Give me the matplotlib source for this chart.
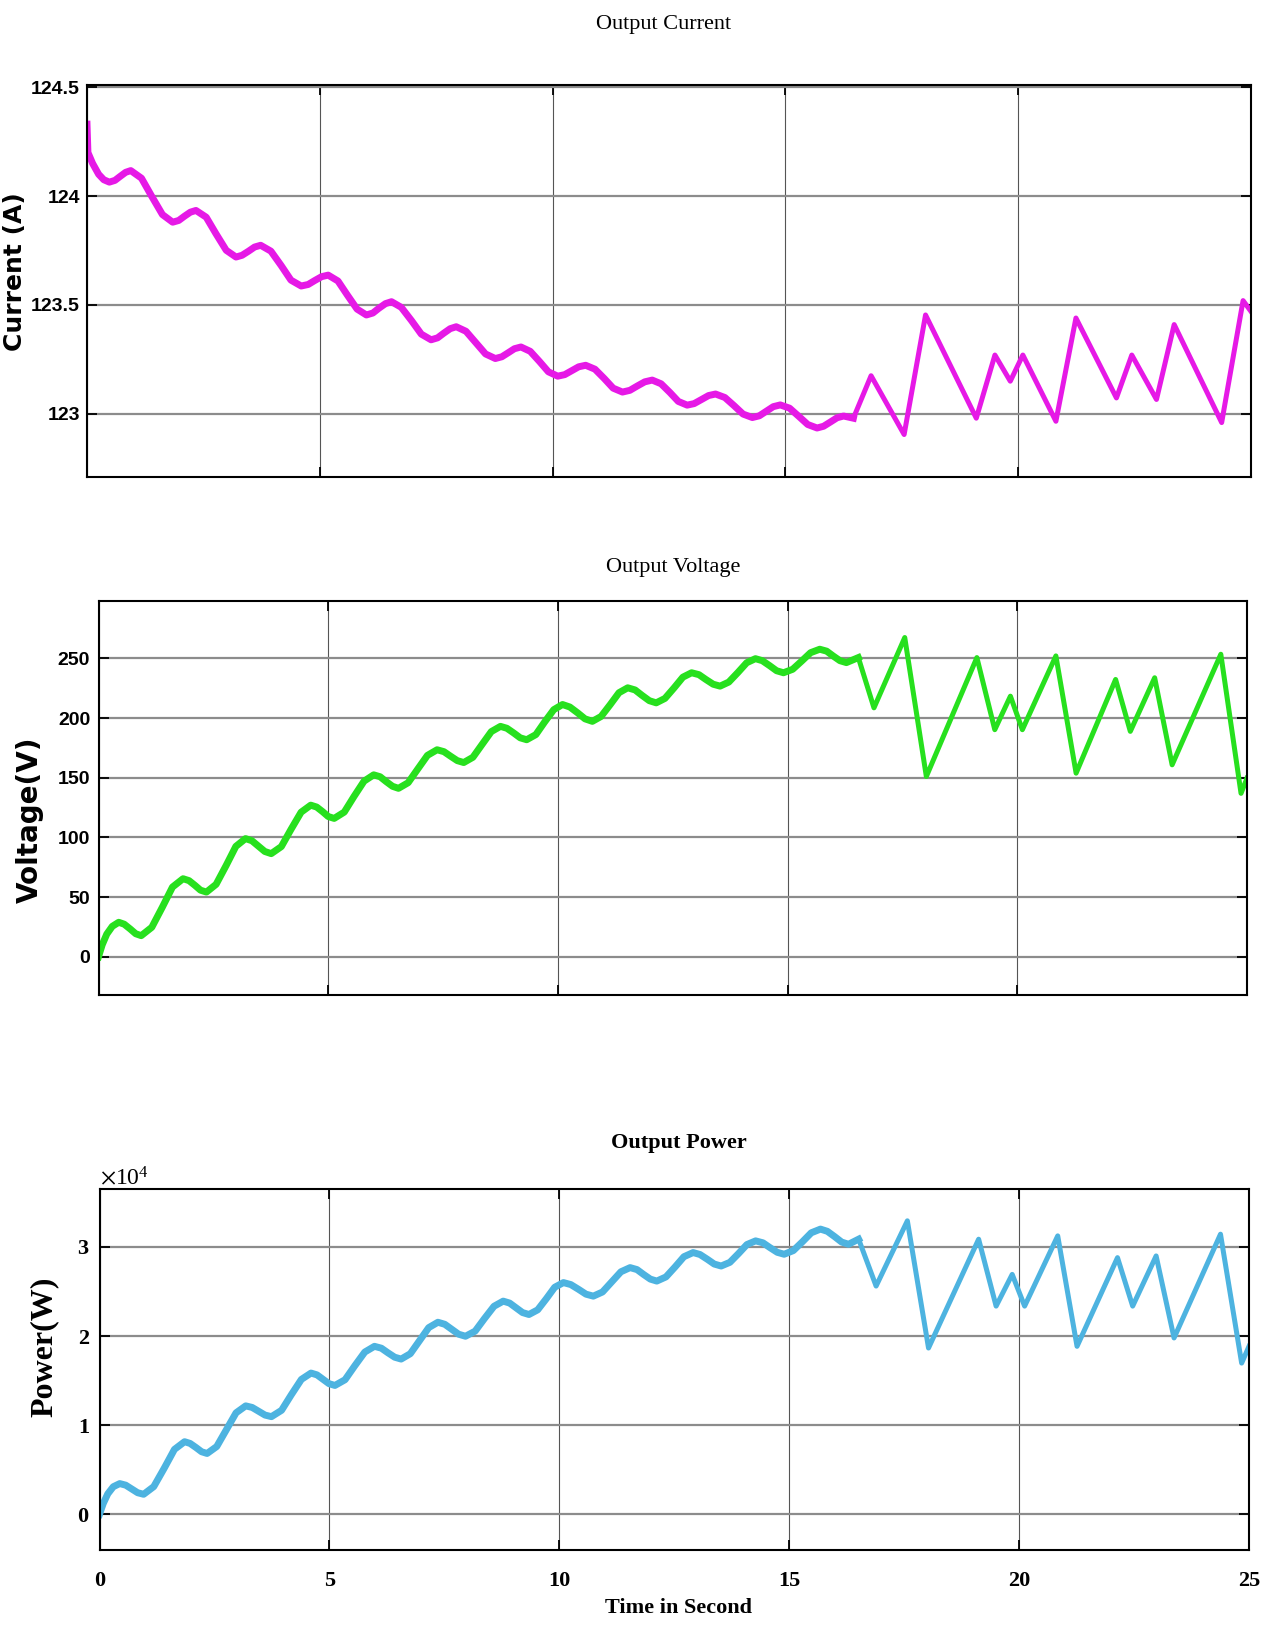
import matplotlib
matplotlib.use('Agg')
import matplotlib.pyplot as plt
from matplotlib.ticker import FixedLocator, FuncFormatter, ScalarFormatter

# ---- data (time in s) ----
# output current, smooth start-up part (one line per half-wave)
t_current = [0.00, 0.02, 0.12, 0.25, 0.36, 0.48,
             0.60, 0.71, 0.83, 0.94,
             1.17, 1.39, 1.62, 1.84,
             1.97, 2.09, 2.22, 2.34,
             2.56, 2.77, 2.99, 3.20,
             3.33, 3.47, 3.60, 3.73,
             3.95, 4.17, 4.38, 4.60,
             4.75, 4.89, 5.04, 5.18,
             5.39, 5.59, 5.80, 6.00,
             6.14, 6.27, 6.41, 6.54,
             6.75, 6.97, 7.18, 7.39,
             7.53, 7.66, 7.80, 7.93,
             8.14, 8.35, 8.56, 8.77,
             8.91, 9.05, 9.18, 9.32,
             9.52, 9.72, 9.91, 10.11,
             10.26, 10.41, 10.56, 10.71,
             10.91, 11.11, 11.30, 11.50,
             11.66, 11.82, 11.98, 12.14,
             12.33, 12.52, 12.70, 12.89,
             13.04, 13.20, 13.35, 13.50,
             13.70, 13.90, 14.09, 14.29,
             14.44, 14.59, 14.74, 14.89,
             15.09, 15.29, 15.48, 15.68,
             15.82, 15.97, 16.11, 16.25,
             16.46]
current = [124.33, 124.20, 124.15, 124.10, 124.075, 124.064,
           124.072, 124.090, 124.109, 124.117,
           124.082, 123.999, 123.915, 123.880,
           123.888, 123.907, 123.926, 123.934,
           123.903, 123.827, 123.751, 123.720,
           123.728, 123.747, 123.766, 123.774,
           123.747, 123.681, 123.614, 123.587,
           123.594, 123.612, 123.630, 123.637,
           123.610, 123.546, 123.481, 123.454,
           123.463, 123.485, 123.506, 123.515,
           123.489, 123.428, 123.366, 123.340,
           123.349, 123.370, 123.391, 123.400,
           123.379, 123.327, 123.275, 123.254,
           123.262, 123.281, 123.299, 123.307,
           123.287, 123.240, 123.193, 123.173,
           123.180, 123.198, 123.216, 123.223,
           123.205, 123.162, 123.118, 123.100,
           123.108, 123.128, 123.147, 123.155,
           123.138, 123.098, 123.057, 123.040,
           123.047, 123.066, 123.084, 123.091,
           123.075, 123.037, 122.999, 122.983,
           122.991, 123.012, 123.033, 123.041,
           123.026, 122.988, 122.951, 122.935,
           122.943, 122.963, 122.982, 122.990,
           122.980]
# output current, oscillating part
t_current_osc = [16.46, 16.84, 17.55, 18.01, 19.10, 19.50, 19.83, 20.10, 20.81,
                 21.24, 22.11, 22.44, 22.97, 23.35, 24.37, 24.83, 25.00]
current_osc = [122.98, 123.175, 122.905, 123.454, 122.98, 123.27, 123.15, 123.27,
               122.966, 123.44, 123.073, 123.27, 123.066, 123.41, 122.96, 123.52, 123.47]

# output voltage
t_voltage = [0.00, 0.08, 0.18, 0.30, 0.44,
             0.56, 0.69, 0.81, 0.93,
             1.16, 1.39, 1.61, 1.84,
             1.97, 2.10, 2.22, 2.35,
             2.56, 2.78, 2.99, 3.20,
             3.34, 3.48, 3.62, 3.76,
             3.98, 4.19, 4.41, 4.62,
             4.75, 4.88, 5.00, 5.13,
             5.35, 5.56, 5.78, 5.99,
             6.13, 6.26, 6.40, 6.53,
             6.74, 6.95, 7.16, 7.37,
             7.52, 7.66, 7.81, 7.95,
             8.15, 8.35, 8.55, 8.75,
             8.89, 9.04, 9.18, 9.32,
             9.52, 9.71, 9.91, 10.10,
             10.26, 10.43, 10.59, 10.75,
             10.94, 11.14, 11.33, 11.52,
             11.68, 11.83, 11.99, 12.14,
             12.33, 12.53, 12.72, 12.91,
             13.07, 13.22, 13.38, 13.53,
             13.72, 13.92, 14.11, 14.30,
             14.45, 14.61, 14.76, 14.91,
             15.11, 15.31, 15.50, 15.70,
             15.85, 15.99, 16.14, 16.28,
             16.54]
voltage = [0.0, 10.0, 19.0, 25.5, 28.9,
           27.3, 23.3, 19.3, 17.7,
           24.7, 41.6, 58.4, 65.4,
           63.8, 59.8, 55.8, 54.2,
           60.7, 76.6, 92.5, 99.0,
           97.2, 92.7, 88.2, 86.4,
           92.3, 106.7, 121.1, 127.0,
           125.4, 121.5, 117.5, 115.9,
           121.2, 134.2, 147.1, 152.4,
           150.8, 146.8, 142.8, 141.1,
           145.8, 157.3, 168.7, 173.4,
           171.8, 168.1, 164.3, 162.7,
           167.1, 177.9, 188.6, 193.0,
           191.4, 187.4, 183.4, 181.8,
           186.1, 196.6, 207.0, 211.3,
           209.2, 204.3, 199.3, 197.2,
           201.3, 211.3, 221.2, 225.3,
           223.5, 219.0, 214.5, 212.7,
           216.4, 225.3, 234.2, 237.9,
           236.3, 232.3, 228.3, 226.7,
           230.1, 238.2, 246.3, 249.7,
           248.0, 243.8, 239.6, 237.9,
           240.8, 247.8, 254.7, 257.6,
           256.0, 252.0, 248.0, 246.4,
           250.6]
t_voltage_osc = [16.54, 16.88, 17.55, 18.02, 19.12, 19.51, 19.85, 20.11, 20.84,
                 21.28, 22.14, 22.46, 22.99, 23.37, 24.43, 24.87, 25.00]
voltage_osc = [250.6, 208.5, 267.4, 151.0, 250.6, 190.2, 218.3, 190.2, 252.0,
               153.8, 232.3, 188.8, 233.7, 160.8, 253.4, 136.9, 149.6]

# output power (W)
t_power = [0.00, 0.08, 0.18, 0.30, 0.44,
           0.57, 0.70, 0.83, 0.96,
           1.18, 1.41, 1.63, 1.85,
           1.97, 2.10, 2.22, 2.34,
           2.55, 2.76, 2.97, 3.18,
           3.32, 3.46, 3.60, 3.74,
           3.96, 4.17, 4.39, 4.60,
           4.73, 4.86, 4.99, 5.12,
           5.34, 5.55, 5.77, 5.98,
           6.13, 6.27, 6.42, 6.56,
           6.76, 6.96, 7.16, 7.36,
           7.51, 7.66, 7.81, 7.96,
           8.17, 8.37, 8.58, 8.78,
           8.92, 9.06, 9.20, 9.34,
           9.53, 9.72, 9.90, 10.09,
           10.25, 10.42, 10.58, 10.74,
           10.94, 11.14, 11.34, 11.54,
           11.69, 11.83, 11.98, 12.12,
           12.32, 12.52, 12.71, 12.91,
           13.06, 13.22, 13.37, 13.52,
           13.71, 13.90, 14.08, 14.27,
           14.43, 14.58, 14.74, 14.89,
           15.09, 15.29, 15.48, 15.68,
           15.83, 15.99, 16.14, 16.29,
           16.51]
power = [0, 1200, 2300, 3100, 3450,
         3275, 2850, 2425, 2250,
         3111, 5200, 7289, 8150,
         7957, 7490, 7023, 6830,
         7610, 9500, 11390, 12170,
         11993, 11565, 11137, 10960,
         11674, 13405, 15136, 15850,
         15647, 15155, 14663, 14460,
         15101, 16655, 18209, 18850,
         18641, 18135, 17629, 17420,
         18023, 19485, 20947, 21550,
         21321, 20765, 20209, 19980,
         20555, 21950, 23345, 23920,
         23701, 23170, 22639, 22420,
         22943, 24210, 25477, 26000,
         25778, 25240, 24702, 24480,
         24947, 26080, 27213, 27680,
         27460, 26925, 26390, 26170,
         26637, 27770, 28903, 29370,
         29150, 28615, 28080, 27860,
         28272, 29270, 30268, 30680,
         30461, 29930, 29399, 29180,
         29592, 30590, 31588, 32000,
         31752, 31150, 30548, 30300,
         30870]
t_power_osc = [16.51, 16.89, 17.57, 18.03, 19.12, 19.50, 19.85, 20.12, 20.84,
               21.26, 22.14, 22.47, 22.98, 23.37, 24.38, 24.84, 25.00]
power_osc = [30870, 25610, 32930, 18660, 30870, 23360, 26920, 23360, 31240,
             18850, 28800, 23360, 28990, 19790, 31430, 16970, 18850]

x_ticks = [0, 5, 10, 15, 20, 25]
current_ticks = [123, 123.5, 124, 124.5]
voltage_ticks = [0, 50, 100, 150, 200, 250]
power_ticks = [0, 10000, 20000, 30000]

# ---- fonts ----
sans = 'Liberation Sans'
serif = 'Liberation Serif'
plt.rcParams['mathtext.fontset'] = 'stix'

W, H = 1274, 1625


def box(left, top, right, bottom):
    # pixel box -> figure fraction
    return [left / W, 1 - bottom / H, (right - left) / W, (bottom - top) / H]


def style(ax):
    for s in ax.spines.values():
        s.set_linewidth(1.5)
        s.set_color('black')
    ax.set_xlim(0, 25)
    ax.xaxis.set_major_locator(FixedLocator(x_ticks))
    ax.tick_params(direction='in', length=7, width=1.3, top=True, right=True)
    ax.xaxis.grid(True, color='#555555', lw=0.8)
    ax.yaxis.grid(True, color='#8c8c8c', lw=1.6)
    ax.set_axisbelow(True)


fig = plt.figure(figsize=(W / 100, H / 100), dpi=100)

# ---------- current ----------
ax1 = fig.add_axes(box(87, 85, 1251, 477))
style(ax1)
ax1.plot(t_current, current, color='#E619E6', lw=5.0, solid_joinstyle='round')
ax1.plot(t_current_osc, current_osc, color='#E619E6', lw=3.6, solid_joinstyle='round')
ax1.set_ylim(122.71, 124.51)
ax1.yaxis.set_major_locator(FixedLocator(current_ticks))
ax1.yaxis.set_major_formatter(FuncFormatter(lambda v, p: f'{v:g}'))
ax1.set_xticklabels([])
ax1.tick_params(axis='y', pad=5)
for lab in ax1.get_yticklabels():
    lab.set_fontfamily(sans)
    lab.set_fontweight('bold')
    lab.set_fontsize(14)
ax1.set_title('Output Current', fontfamily=serif, fontsize=16, x=0.495, y=1.155,
              va='center', pad=0)
ax1.set_ylabel('Current (A)', fontfamily='DejaVu Sans', fontweight='bold', fontsize=18, va='center')
ax1.yaxis.set_label_coords(-0.062, 0.525)

# ---------- voltage ----------
ax2 = fig.add_axes(box(98.5, 601, 1247, 995))
style(ax2)
ax2.plot(t_voltage, voltage, color='#27E01E', lw=5.0, solid_joinstyle='round')
ax2.plot(t_voltage_osc, voltage_osc, color='#27E01E', lw=3.6, solid_joinstyle='round')
ax2.set_ylim(-32, 298)
ax2.yaxis.set_major_locator(FixedLocator(voltage_ticks))
ax2.set_xticklabels([])
ax2.tick_params(axis='y', pad=6)
for lab in ax2.get_yticklabels():
    lab.set_fontfamily(sans)
    lab.set_fontweight('bold')
    lab.set_fontsize(14)
ax2.set_title('Output Voltage', fontfamily=serif, fontsize=16, x=0.5, y=1.086,
              va='center', pad=0)
ax2.set_ylabel('Voltage(V)', fontfamily='DejaVu Sans', fontweight='bold', fontsize=20, va='center')
ax2.yaxis.set_label_coords(-0.0597, 0.444)

# ---------- power ----------
ax3 = fig.add_axes(box(99.5, 1189, 1249, 1550))
style(ax3)
ax3.plot(t_power, power, color='#4DB3E0', lw=5.0, solid_joinstyle='round')
ax3.plot(t_power_osc, power_osc, color='#4DB3E0', lw=3.6, solid_joinstyle='round')
ax3.set_ylim(-4000, 36500)
ax3.yaxis.set_major_locator(FixedLocator(power_ticks))
fmt = ScalarFormatter(useMathText=True)
fmt.set_powerlimits((0, 0))
ax3.yaxis.set_major_formatter(fmt)
ax3.yaxis.get_offset_text().set_fontsize(17)
ax3.yaxis.get_offset_text().set_fontfamily(serif)
ax3.tick_params(axis='y', pad=7)
ax3.tick_params(axis='x', pad=15)
for lab in ax3.get_yticklabels() + ax3.get_xticklabels():
    lab.set_fontfamily(serif)
    lab.set_fontweight('bold')
    lab.set_fontsize(16)
ax3.set_title('Output Power', fontfamily=serif, fontweight='bold', fontsize=16, x=0.504, y=1.127,
              va='center', pad=0)
ax3.set_ylabel('Power(W)', fontfamily=serif, fontweight='bold', fontsize=23, va='center')
ax3.yaxis.set_label_coords(-0.048, 0.562)
ax3.set_xlabel('Time in Second', fontfamily=serif, fontweight='bold', fontsize=16, va='center')
ax3.xaxis.set_label_coords(0.504, -0.16)

fig.savefig('out.png', dpi=100)
